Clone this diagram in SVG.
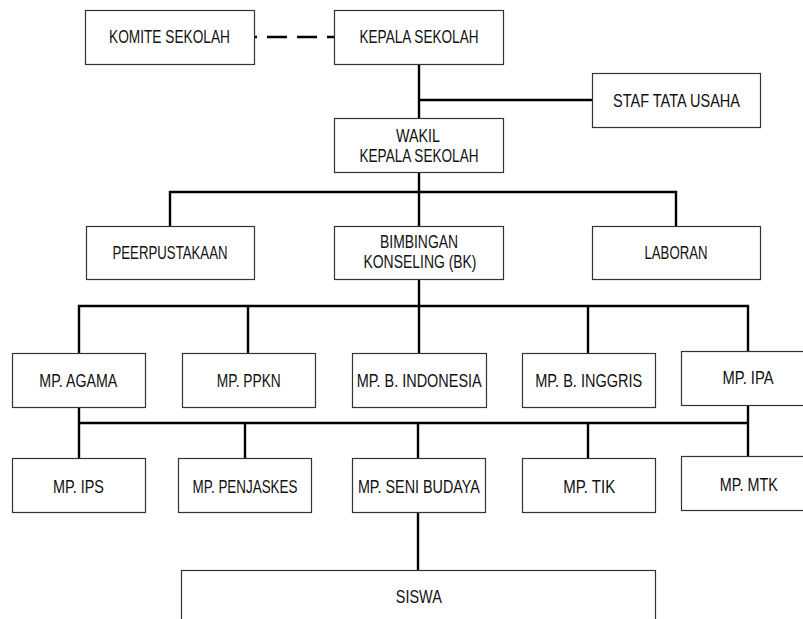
<svg xmlns="http://www.w3.org/2000/svg" width="803" height="619" viewBox="0 0 803 619">
<style>
.box{fill:#fff;stroke:#333;stroke-width:1.2}
.t{font-family:"Liberation Sans",Arial,sans-serif;font-size:18px;fill:#111;text-anchor:middle}
.c{fill:none;stroke:#000;stroke-width:2.4}
.d{fill:none;stroke:#000;stroke-width:2.4;stroke-dasharray:20 10;stroke-dashoffset:17}
</style>
<rect width="803" height="619" fill="#fff"/>
<g id="connectors">
<path class="d" d="M254 37 H334"/>
<path class="c" d="M419 64 V118 M419 100 H592 M419 172 V192 M170 226 V192 H676 V226 M419 192 V226"/>
<path class="c" d="M419 279 V306 M79 353 V306 H748 V351 M248 306 V353 M588 306 V353 M419 306 V353"/>
<path class="c" d="M79 407 V458 M748 405 V456 M79 423 H748 M245 423 V458 M418 423 V458 M588 423 V458"/>
<path class="c" d="M418 512 V570"/>
</g>
<g id="komite"><rect class="box" x="85.5" y="10.5" width="169" height="54"/><text class="t" x="169.5" y="43.3" textLength="121" lengthAdjust="spacingAndGlyphs">KOMITE SEKOLAH</text></g>
<g id="kepala"><rect class="box" x="334.5" y="10.5" width="169" height="54"/><text class="t" x="419" y="43.3" textLength="119" lengthAdjust="spacingAndGlyphs">KEPALA SEKOLAH</text></g>
<g id="staf"><rect class="box" x="592.5" y="73.5" width="168" height="54"/><text class="t" x="676.5" y="106.7" textLength="127" lengthAdjust="spacingAndGlyphs">STAF TATA USAHA</text></g>
<g id="wakil"><rect class="box" x="334.5" y="118.5" width="169" height="54"/><text class="t" x="418" y="141.7" textLength="44" lengthAdjust="spacingAndGlyphs">WAKIL</text><text class="t" x="419" y="161.7" textLength="119" lengthAdjust="spacingAndGlyphs">KEPALA SEKOLAH</text></g>
<g id="perpustakaan"><rect class="box" x="86.5" y="226.5" width="168" height="53"/><text class="t" x="170" y="259.3" textLength="115" lengthAdjust="spacingAndGlyphs">PEERPUSTAKAAN</text></g>
<g id="bk"><rect class="box" x="334.5" y="226.5" width="169" height="53"/><text class="t" x="419" y="248.3" textLength="78" lengthAdjust="spacingAndGlyphs">BIMBINGAN</text><text class="t" x="420" y="268.3" textLength="113" lengthAdjust="spacingAndGlyphs">KONSELING (BK)</text></g>
<g id="laboran"><rect class="box" x="592.5" y="226.5" width="168" height="53"/><text class="t" x="676" y="259.3" textLength="63" lengthAdjust="spacingAndGlyphs">LABORAN</text></g>
<g id="agama"><rect class="box" x="12.5" y="353.5" width="133" height="54"/><text class="t" x="78.3" y="386.7" textLength="78" lengthAdjust="spacingAndGlyphs">MP. AGAMA</text></g>
<g id="ppkn"><rect class="box" x="182.5" y="353.5" width="133" height="54"/><text class="t" x="248.8" y="386.7" textLength="64" lengthAdjust="spacingAndGlyphs">MP. PPKN</text></g>
<g id="bindonesia"><rect class="box" x="352.5" y="353.5" width="134" height="54"/><text class="t" x="419.2" y="386.7" textLength="125" lengthAdjust="spacingAndGlyphs">MP. B. INDONESIA</text></g>
<g id="binggris"><rect class="box" x="522.5" y="353.5" width="133" height="54"/><text class="t" x="588.7" y="386.7" textLength="107" lengthAdjust="spacingAndGlyphs">MP. B. INGGRIS</text></g>
<g id="ipa"><rect class="box" x="681.5" y="351.5" width="134" height="54"/><text class="t" x="748" y="384" textLength="51" lengthAdjust="spacingAndGlyphs">MP. IPA</text></g>
<g id="ips"><rect class="box" x="12.5" y="458.5" width="133" height="54"/><text class="t" x="78.4" y="493.3" textLength="51" lengthAdjust="spacingAndGlyphs">MP. IPS</text></g>
<g id="penjaskes"><rect class="box" x="178.5" y="458.5" width="133" height="54"/><text class="t" x="245" y="493.3" textLength="105" lengthAdjust="spacingAndGlyphs">MP. PENJASKES</text></g>
<g id="senibudaya"><rect class="box" x="352.5" y="458.5" width="133" height="54"/><text class="t" x="418.9" y="493.3" textLength="122" lengthAdjust="spacingAndGlyphs">MP. SENI BUDAYA</text></g>
<g id="tik"><rect class="box" x="522.5" y="458.5" width="133" height="54"/><text class="t" x="589.2" y="493.3" textLength="52" lengthAdjust="spacingAndGlyphs">MP. TIK</text></g>
<g id="mtk"><rect class="box" x="681.5" y="456.5" width="134" height="54"/><text class="t" x="748.8" y="491" textLength="58" lengthAdjust="spacingAndGlyphs">MP. MTK</text></g>
<g id="siswa"><rect class="box" x="181.5" y="570.5" width="474" height="70"/><text class="t" x="418.8" y="602.7" textLength="46" lengthAdjust="spacingAndGlyphs">SISWA</text></g>
</svg>
